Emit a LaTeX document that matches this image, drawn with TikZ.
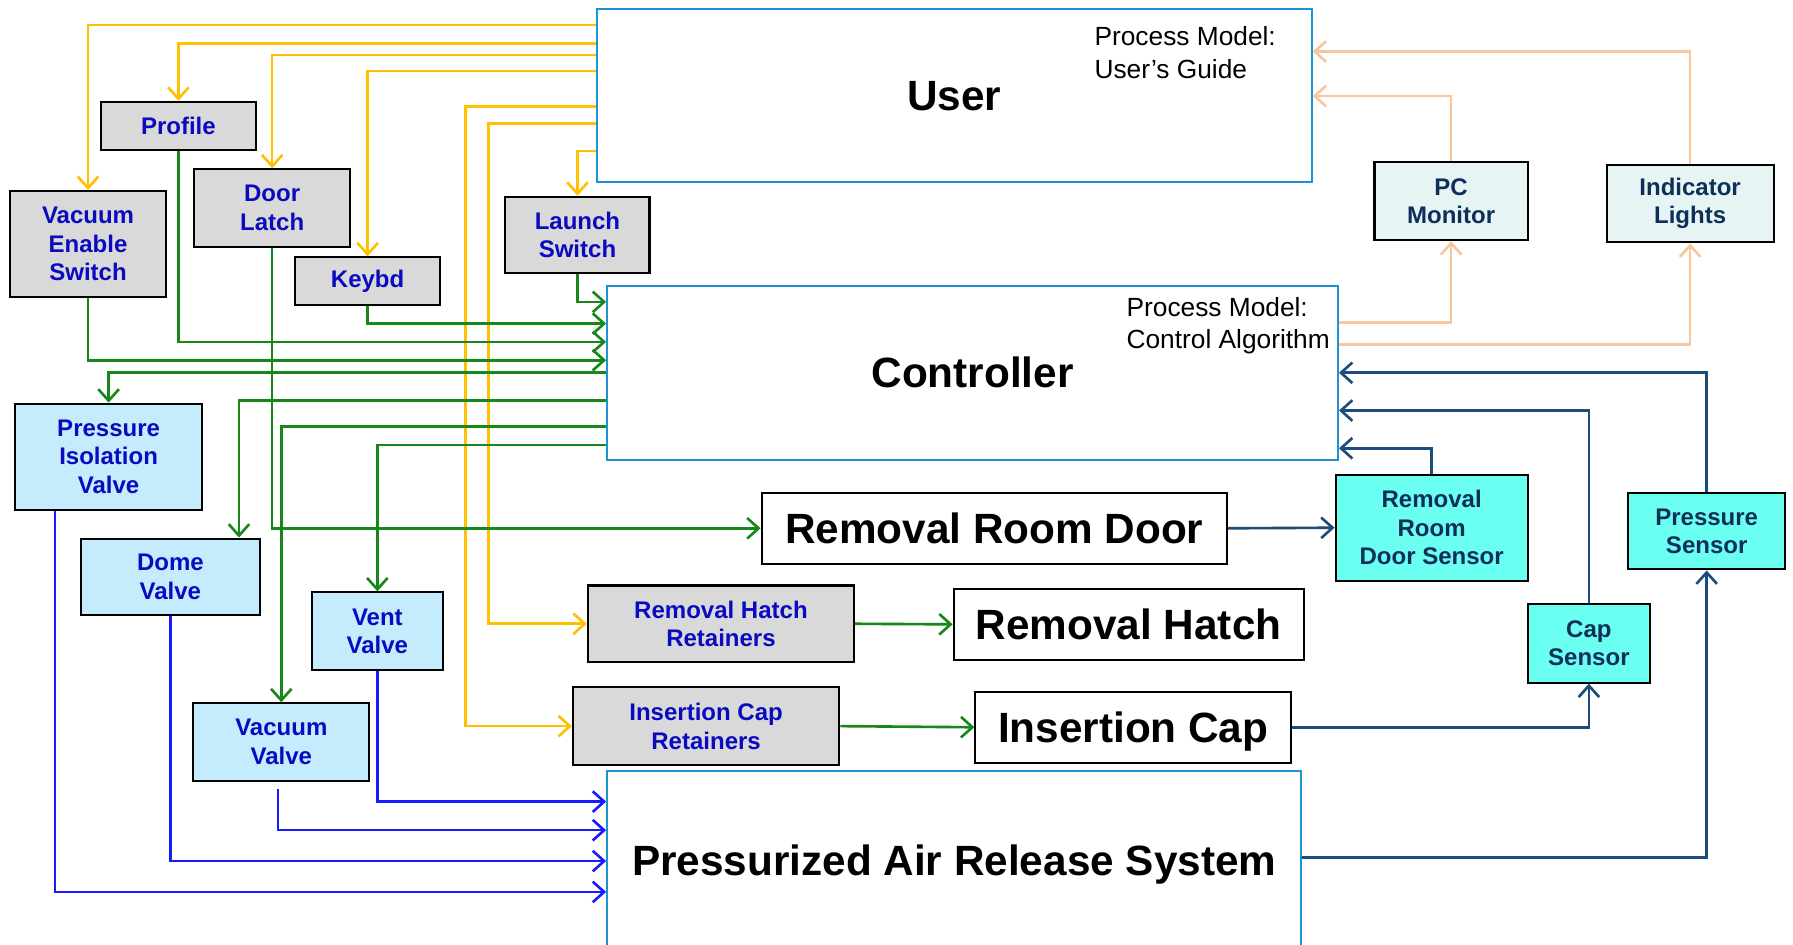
\documentclass[tikz,border=0pt]{standalone}
\usepackage{fontspec}
\setmainfont{Liberation Sans}
\usetikzlibrary{arrows.meta}
\definecolor{ylwc}{HTML}{FFC000}
\definecolor{grnc}{HTML}{17871A}
\definecolor{bluc}{HTML}{1A1AFF}
\definecolor{nvyc}{HTML}{1B4C7C}
\definecolor{pchc}{HTML}{F8C69C}
\definecolor{bigbd}{HTML}{1E93D3}
\definecolor{grayf}{HTML}{D9D9D9}
\definecolor{valvef}{HTML}{C5ECFD}
\definecolor{sensf}{HTML}{6AFFF0}
\definecolor{monf}{HTML}{E6F4F4}
\definecolor{lbltxt}{HTML}{0A0AC0}
\definecolor{navytxt}{HTML}{0E2F5A}
\newcommand\lblfont{\fontsize{21}{25}\selectfont\bfseries}
\newcommand\ttlfont{\fontsize{37}{42}\selectfont\bfseries}
\newcommand\notefont{\fontsize{23}{28}\selectfont}
\begin{document}
\begin{tikzpicture}[x=1pt,y=-1pt,
  box/.style={draw=black, line width=1.8pt, inner sep=0pt, align=center, font=\lblfont},
  gbox/.style={box, fill=grayf, text=lbltxt},
  vbox/.style={box, fill=valvef, text=lbltxt},
  sbox/.style={box, fill=sensf, text=navytxt},
  mbox/.style={box, fill=monf, text=navytxt},
  wbox/.style={box, fill=white, text=black, font=\ttlfont, text height=26.5pt, text depth=0pt},
  bigb/.style={draw=bigbd, line width=1.9pt, fill=white, inner sep=0pt, font=\ttlfont, text height=26.5pt, text depth=0pt},
  note/.style={inner sep=0pt, align=left, anchor=west, font=\notefont},
  conn/.style={line width=2.3pt, -{Straight Barb[length=10pt,width=18pt]}},
  yl/.style={conn, draw=ylwc},
  gr/.style={conn, draw=grnc},
  bl/.style={conn, draw=bluc},
  nv/.style={conn, draw=nvyc},
  pc/.style={conn, draw=pchc}]
\clip (0,0) rectangle (1568,826);
\fill[white] (0,0) rectangle (1568,826);
% big boxes
\node[bigb, minimum width=625pt, minimum height=151pt] (user) at (834.5,83.5) {User};
\node[note] (unote) at (957,46) {Process Model:\\User’s Guide};
\node[bigb, minimum width=639pt, minimum height=152pt] (ctrl) at (850.5,326) {Controller};
\node[note] (cnote) at (985,285) {Process Model:\\Control Algorithm};
\node[bigb, minimum width=607pt, minimum height=156pt] (pars) at (834.5,752) {Pressurized Air Release System};
% input devices
\node[gbox, minimum width=136pt, minimum height=42pt] (profile) at (156,110) {Profile};
\node[gbox, minimum width=136pt, minimum height=93pt] (ves) at (77,213.5) {Vacuum\\Enable\\Switch};
\node[gbox, minimum width=136pt, minimum height=68pt] (door) at (238,182) {Door\\Latch};
\node[gbox, minimum width=127pt, minimum height=42pt] (keybd) at (321.5,246) {Keybd};
\node[gbox, minimum width=126pt, minimum height=67pt] (launch) at (505,205.5) {Launch\\Switch};
% displays
\node[mbox, minimum width=134pt, minimum height=68pt] (pcm) at (1269,176) {PC\\Monitor};
\node[mbox, minimum width=146pt, minimum height=68pt] (ind) at (1478,178) {Indicator\\Lights};
% valves
\node[vbox, minimum width=164pt, minimum height=93pt] (piv) at (95,399.5) {Pressure\\Isolation\\Valve};
\node[vbox, minimum width=156pt, minimum height=67pt] (dome) at (149,504.5) {Dome\\Valve};
\node[vbox, minimum width=114pt, minimum height=68pt] (vent) at (330,552) {Vent\\Valve};
\node[vbox, minimum width=154pt, minimum height=68pt] (vacv) at (246,649) {Vacuum\\Valve};
% controlled elements
\node[wbox, minimum width=407pt, minimum height=62pt] (rrd) at (869.5,462) {Removal Room Door};
\node[gbox, minimum width=233pt, minimum height=67pt] (rhr) at (630.5,545.5) {Removal Hatch\\Retainers};
\node[wbox, minimum width=306pt, minimum height=62pt] (rh) at (987,546) {Removal Hatch};
\node[gbox, minimum width=233pt, minimum height=68pt] (icr) at (617.5,635) {Insertion Cap\\Retainers};
\node[wbox, minimum width=276pt, minimum height=62pt] (ic) at (991,636) {Insertion Cap};
% sensors
\node[sbox, minimum width=168pt, minimum height=93pt] (rrds) at (1252,461.5) {Removal\\Room\\Door Sensor};
\node[sbox, minimum width=137pt, minimum height=67pt] (ps) at (1492.5,464.5) {Pressure\\Sensor};
\node[sbox, minimum width=107pt, minimum height=69pt] (cap) at (1389.5,562.5) {Cap\\Sensor};
% yellow: user actions
\draw[yl] (user.west |- 0,22) -| (ves.north);
\draw[yl] (user.west |- 0,38) -| (profile.north);
\draw[yl] (user.west |- 0,48) -| (door.north);
\draw[yl] (user.west |- 0,62) -| (keybd.north);
\draw[yl] (user.west |- 0,93) -| (407,635) -- (icr.west);
\draw[yl] (user.west |- 0,108) -| (427,545.5) -- (rhr.west);
\draw[yl] (user.west |- 0,132) -| (launch.north);
% green: inputs to controller
\draw[gr] (launch.south) |- (ctrl.west |- 0,264);
\draw[gr] (keybd.south) |- (ctrl.west |- 0,283);
\draw[gr] (profile.south) |- (ctrl.west |- 0,299);
\draw[gr] (ves.south) |- (ctrl.west |- 0,315);
% green: controller commands
\draw[gr] (ctrl.west |- 0,326) -| (piv.north);
\draw[gr] (ctrl.west |- 0,350) -| (dome.north -| 209,0);
\draw[gr] (ctrl.west |- 0,373) -| (vacv.north);
\draw[gr] (ctrl.west |- 0,389) -| (vent.north);
\draw[gr] (door.south) |- (rrd.west);
\draw[gr] (rhr.east) -- (rh.west);
\draw[gr] (icr.east) -- (ic.west);
% blue: valves to air release system
\draw[bl] (vent.south) |- (pars.west |- 0,701);
\draw[bl] (vacv.south -| 243,0) ++(0,6) |- (pars.west |- 0,726);
\draw[bl] (dome.south) |- (pars.west |- 0,753);
\draw[bl] (piv.south -| 48,0) |- (pars.west |- 0,780);
% navy: sensors
\draw[nv] (rrd.east) -- (rrds.west);
\draw[nv] (rrds.north) |- (ctrl.east |- 0,392);
\draw[nv] (cap.north) |- (ctrl.east |- 0,359);
\draw[nv] (ps.north) |- (ctrl.east |- 0,326);
\draw[nv] (ic.east) -| (cap.south);
\draw[nv] (pars.east |- 0,750) -| (ps.south);
% peach: displays
\draw[pc] (ctrl.east |- 0,282) -| (pcm.south);
\draw[pc] (ctrl.east |- 0,301) -| (ind.south);
\draw[pc] (pcm.north) |- (user.east |- 0,84);
\draw[pc] (ind.north) |- (user.east |- 0,45);
\end{tikzpicture}
\end{document}
